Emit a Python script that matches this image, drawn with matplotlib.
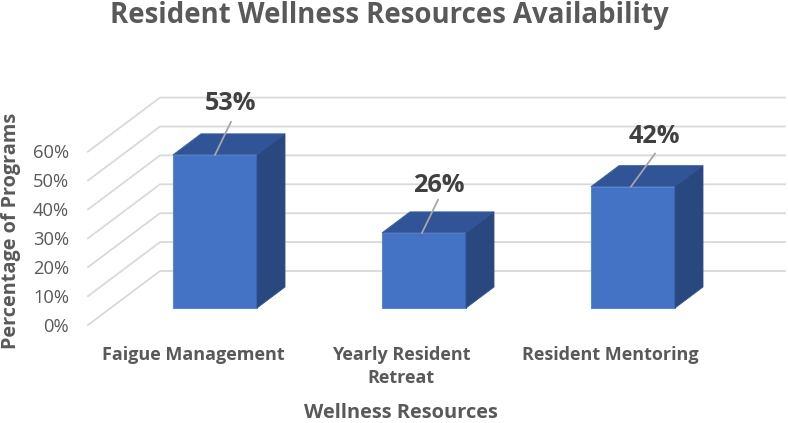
import matplotlib
matplotlib.use("Agg")
import matplotlib.pyplot as plt
from matplotlib.patches import Polygon

categories = ["Faigue Management", "Yearly Resident\nRetreat", "Resident Mentoring"]
values = [53, 26, 42]
labels = ["53%", "26%", "42%"]
ticks = [0, 10, 20, 30, 40, 50, 60]

plt.rcParams['font.family'] = ['Open Sans', 'DejaVu Sans']
W, H = 788, 423
fig = plt.figure(figsize=(W/100, H/100), dpi=100)
ax = fig.add_axes([0, 0, 1, 1])
PX = 2.89  # pixels per percentage point
BASE = 308
ax.set_xlim(0, W)
ax.set_ylim((BASE-H)/PX, BASE/PX)
ax.axis('off')

# layout (pixels on x, percentage units on y)
lefts = [173, 382, 591]
bw = 84
dx = 28
dy = 21/PX
front_off = -17/PX
back_off = 37/PX
gx0, gx1, gx2 = 88, 160, 785

for t in ticks:
    ax.plot([gx0, gx1, gx2], [t+front_off, t+back_off, t+back_off],
            color='#d9d9d9', lw=1.3, zorder=1, solid_joinstyle='miter')
    ax.text(69, t+front_off-1.5/PX, f"{t}%", ha='right', va='center', fontsize=13.2, color='#595959')

leaders = [(42, 16, 33), (40, 16, 33), (40, 24, 33)]
label_x = [231, 439, 654]
label_y = [104, 186, 137]
for l, v, lab, lx, ly, (fx, ddx, ddy), cat in zip(lefts, values, labels, label_x, label_y, leaders, categories):
    ax.add_patch(Polygon([(l, 0), (l+bw, 0), (l+bw, v), (l, v)], fc='#4472c4', ec='#5b86d0', lw=0.8, zorder=3))
    ax.add_patch(Polygon([(l, v), (l+bw, v), (l+bw+dx, v+dy), (l+dx, v+dy)], fc='#305496', ec='#3a62a8', lw=0.6, zorder=3))
    ax.add_patch(Polygon([(l+bw, 0), (l+bw+dx, dy), (l+bw+dx, v+dy), (l+bw, v)], fc='#2a4880', ec='#2f5090', lw=0.6, zorder=3))
    ax.plot([l+fx, l+fx+ddx], [v, v+ddy/PX], color='#a6a6a6', lw=1.3, zorder=4)
    ax.text(lx, (BASE-ly)/PX, lab, ha='center', va='center', fontsize=18.2, fontweight='bold', color='#404040', zorder=5)

cat_x = [193, 401, 610]
for cx, cat in zip(cat_x, categories):
    ax.text(cx, (BASE-345.5)/PX, cat, ha='center', va='top', fontsize=13, fontweight='bold',
            color='#595959', linespacing=1.4)

ax.text(389, (BASE-16)/PX, "Resident Wellness Resources Availability", ha='center', va='center',
        fontsize=19.9, fontweight='bold', color='#595959')
ax.text(401, (BASE-413)/PX, "Wellness Resources", ha='center', va='center', fontsize=14.4,
        fontweight='bold', color='#595959')
ax.text(11, (BASE-231)/PX, "Percentage of Programs", rotation=90, ha='center', va='center', fontsize=14.3,
        fontweight='bold', color='#595959')

fig.savefig("out.png", dpi=100)
